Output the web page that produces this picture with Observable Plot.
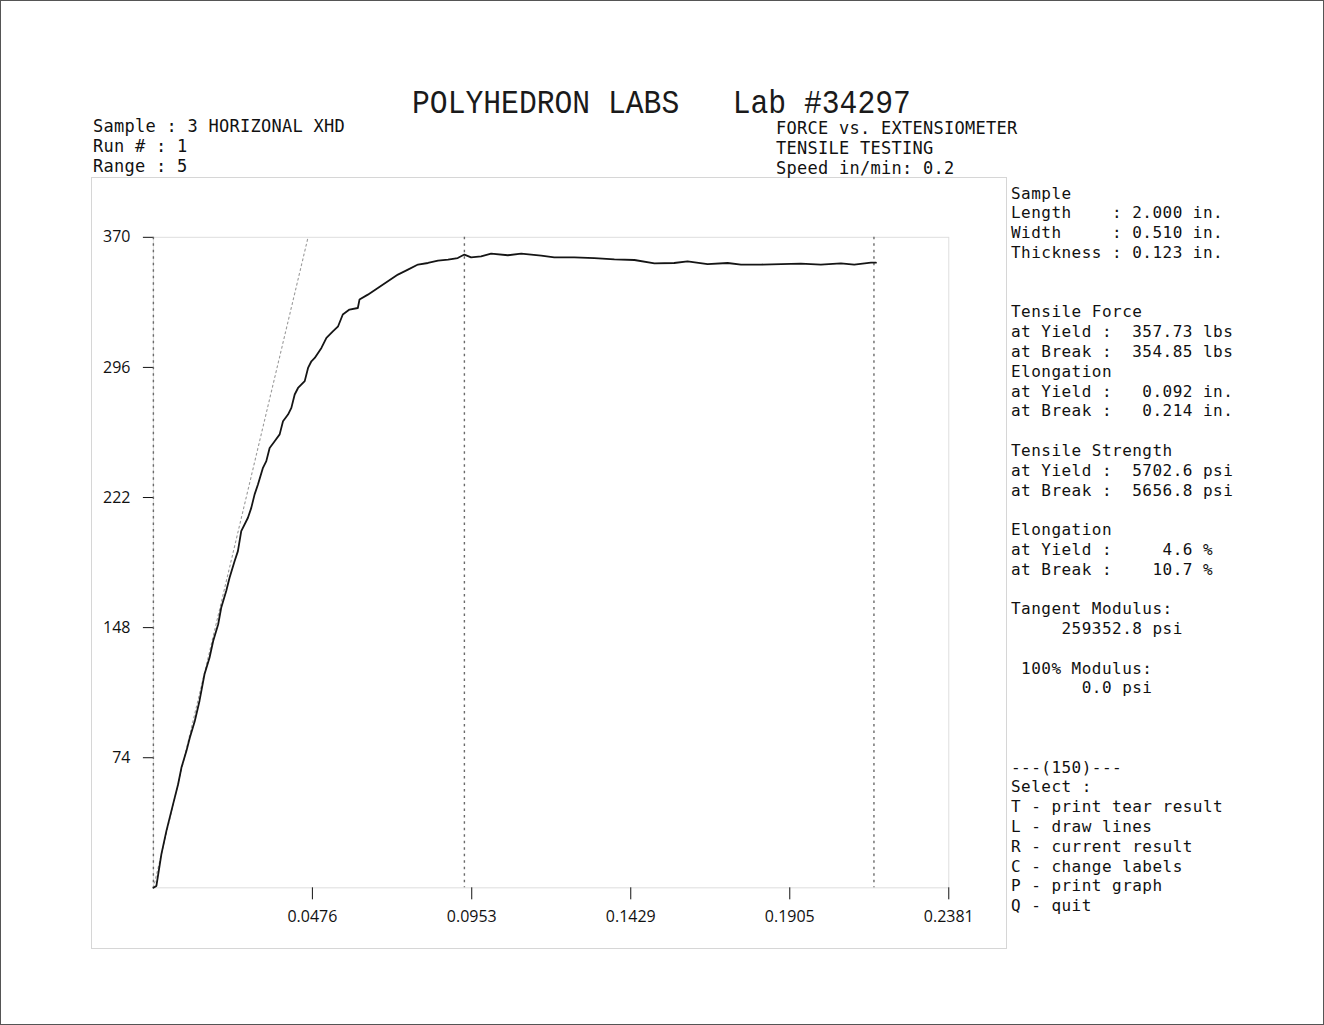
<!DOCTYPE html>
<html>
<head>
<meta charset="utf-8">
<script src="https://cdn.jsdelivr.net/npm/d3@7"></script>
<script src="https://cdn.jsdelivr.net/npm/@observablehq/plot@0.6"></script>
<style>
  html, body { margin: 0; padding: 0; background: #fff; }
  #page { position: relative; width: 1324px; height: 1025px; box-sizing: border-box; border: 1px solid #555; overflow: hidden; background: #fff; }
  #scan { position: absolute; left: 90px; top: 176px; width: 916px; height: 772px; box-sizing: border-box; border: 1px solid #d6d6d6; }
  #chart { position: absolute; left: -1px; top: -1px; }
  .t { position: absolute; white-space: pre; font-family: "DejaVu Sans Mono", monospace; color: #111; margin: 0; }
  .title { font-family: "Liberation Mono", "DejaVu Sans Mono", monospace; color: #1a1a1a; transform: scaleY(1.12); transform-origin: 0 80%; }
</style>
</head>
<body>
<div id="page">
  <div id="scan"></div>
  <div id="chart"></div>
</div>
<script>
// ---- data ----
const xTicks = [0.0476, 0.0953, 0.1429, 0.1905, 0.2381];
const yTicks = [74, 148, 222, 296, 370];

const elong = [0, 0.0009, 0.0024, 0.0039, 0.0059, 0.0074, 0.0084, 0.0099, 0.0109, 0.0124,
  0.0138, 0.0153, 0.0168, 0.0179, 0.0194, 0.0203, 0.0218, 0.0228, 0.0243, 0.0253,
  0.0263, 0.0283, 0.0293, 0.0303, 0.0313, 0.0328, 0.0338, 0.0348, 0.0363, 0.0378,
  0.0388, 0.0403, 0.0413, 0.0423, 0.0433, 0.0453, 0.0463, 0.0473, 0.0483, 0.0503,
  0.0518, 0.0538, 0.0553, 0.0567, 0.0587, 0.0612, 0.0617, 0.0642, 0.0672, 0.0702,
  0.0732, 0.0762, 0.0792, 0.0822, 0.0852, 0.0882, 0.0911, 0.0931, 0.0951, 0.0981,
  0.1011, 0.1061, 0.1101, 0.1161, 0.1200, 0.1260, 0.1320, 0.1380, 0.1440, 0.1500,
  0.1559, 0.1599, 0.1659, 0.1719, 0.1759, 0.1819, 0.1879, 0.1938, 0.1998, 0.2058,
  0.2098, 0.2148, 0.2163];
const force = [0, 1.1, 19.2, 32.4, 47.6, 58.9, 68.4, 77.9, 85.4, 94.9,
  106.3, 121.5, 130.9, 140.4, 149.9, 159.3, 168.8, 176.4, 185.8, 191.5,
  202.9, 210.5, 216.1, 223.8, 229.4, 238.9, 242.7, 250.2, 254.0, 257.9,
  265.4, 269.2, 273.0, 280.6, 284.3, 288.2, 295.7, 299.5, 301.4, 307.1,
  312.8, 316.6, 319.4, 326.1, 328.9, 329.8, 334.6, 337.4, 341.2, 345.0,
  348.8, 351.6, 354.5, 355.4, 356.8, 357.3, 358.2, 360.2, 358.6, 359.2,
  360.7, 359.8, 360.7, 359.6, 358.6, 358.6, 358.2, 357.5, 357.1, 355.2,
  355.4, 356.3, 354.8, 355.4, 354.5, 354.5, 354.8, 355.0, 354.5, 355.2,
  354.5, 355.6, 355.6];

const tangentElong = [0, 0.0463];
const tangentForce = [0, 370];
const markerElong = [0, 0.0931, 0.2157]; // start, yield, break lines

const title = "POLYHEDRON LABS   Lab #34297";
const headerLeft = ["Sample : 3 HORIZONAL XHD", "Run # : 1", "Range : 5"];
const headerRight = ["FORCE vs. EXTENSIOMETER", "TENSILE TESTING", "Speed in/min: 0.2"];
const panelLines = [
  "Sample",
  "Length    : 2.000 in.",
  "Width     : 0.510 in.",
  "Thickness : 0.123 in.",
  "",
  "",
  "Tensile Force",
  "at Yield :  357.73 lbs",
  "at Break :  354.85 lbs",
  "Elongation",
  "at Yield :   0.092 in.",
  "at Break :   0.214 in.",
  "",
  "Tensile Strength",
  "at Yield :  5702.6 psi",
  "at Break :  5656.8 psi",
  "",
  "Elongation",
  "at Yield :     4.6 %",
  "at Break :    10.7 %",
  "",
  "Tangent Modulus:",
  "     259352.8 psi",
  "",
  " 100% Modulus:",
  "       0.0 psi",
  "",
  "",
  "",
  "---(150)---",
  "Select :",
  "T - print tear result",
  "L - draw lines",
  "R - current result",
  "C - change labels",
  "P - print graph",
  "Q - quit"
];

// ---- chart ----
const curve = elong.map((e, i) => ({e, f: force[i]}));
const tangent = tangentElong.map((e, i) => ({e, f: tangentForce[i]}));

const chart = Plot.plot({
  width: 1324,
  height: 1025,
  marginLeft: 153,
  marginRight: 375,
  marginTop: 237,
  marginBottom: 137,
  style: {background: "transparent", fontFamily: "'Open Sans', 'Liberation Sans', sans-serif", fontSize: "16px", color: "#111", overflow: "visible"},
  x: {domain: [0, 0.2381]},
  y: {domain: [0, 370]},
  marks: [
    Plot.frame({stroke: "#dedede"}),
    Plot.ruleX(markerElong, {stroke: "#6a6a6a", strokeWidth: 1.4, strokeDasharray: "2.5,4"}),
    Plot.line(tangent, {x: "e", y: "f", stroke: "#9a9a9a", strokeWidth: 1.1, strokeDasharray: "2,3"}),
    Plot.line(curve, {x: "e", y: "f", stroke: "#151515", strokeWidth: 1.8}),
    Plot.axisX({ticks: xTicks, tickFormat: d => d.toFixed(4), tickSize: 12, tickPadding: 11, label: null, stroke: "#111"}),
    Plot.axisY({ticks: yTicks, tickFormat: d => String(d), tickSize: 10, tickPadding: 13, label: null, stroke: "#111"})
  ]
});
document.getElementById("chart").appendChild(chart);

// ---- text blocks ----
const page = document.getElementById("page");
function place(lines, left, baseline, fs, lh, ls, cls) {
  const el = document.createElement("div");
  el.className = "t" + (cls ? " " + cls : "");
  el.style.fontSize = fs + "px";
  el.style.lineHeight = lh + "px";
  el.style.letterSpacing = ls + "px";
  const top = baseline - ((lh - 1.164 * fs) / 2 + 0.928 * fs);
  el.style.left = (left - 1) + "px";
  el.style.top = (top - 1) + "px";
  el.textContent = lines.join("\n");
  page.appendChild(el);
}
place([title], 412, 115, 29.7, 34, 0, "title");
place(headerLeft, 93, 133, 17, 19.8, 0.26);
place(headerRight, 776, 135, 17, 19.8, 0.26);
place(panelLines, 1011, 199, 16, 19.8, 0.47);
</script>
</body>
</html>
